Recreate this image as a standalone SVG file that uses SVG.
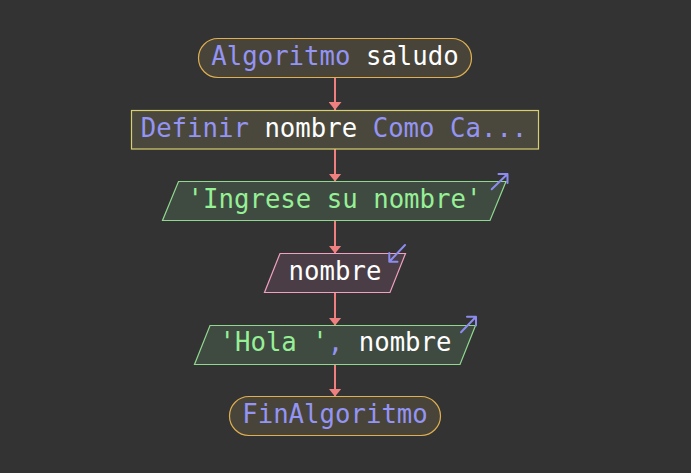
<svg xmlns="http://www.w3.org/2000/svg" width="691" height="473" viewBox="0 0 691 473">
  <defs>
    <marker id="ah" markerWidth="8" markerHeight="13" refX="8" refY="6.5" orient="auto" markerUnits="userSpaceOnUse">
      <path d="M0,0 L8,6.5 L0,13 Z" fill="#f08080"/>
    </marker>
  </defs>
  <style>
    text { font-family: "DejaVu Sans Mono", "Liberation Mono", monospace; font-size: 25.7px; text-anchor: middle; }
    .kw { fill: #9494f4; }
    .id { fill: #ffffff; }
    .str { fill: #96f096; }
    .term { fill: #48443a; stroke: #e0b050; stroke-width: 1.2; }
    .proc { fill: #4a483c; stroke: #d8d070; stroke-width: 1.2; }
    .out { fill: #3f4a40; stroke: #90d890; stroke-width: 1.2; }
    .in { fill: #4a3d45; stroke: #f0a0c0; stroke-width: 1.2; }
    .io { fill: none; stroke: #8c8cf0; stroke-width: 2; stroke-linecap: round; stroke-linejoin: round; }
    .edge { stroke: #f08080; stroke-width: 2; fill: none; }
  </style>
  <rect width="691" height="473" fill="#333333"/>

  <g id="connectors">
    <line class="edge" x1="335" y1="77.5" x2="335" y2="110" marker-end="url(#ah)"/>
    <line class="edge" x1="335" y1="149" x2="335" y2="181.5" marker-end="url(#ah)"/>
    <line class="edge" x1="335" y1="220.5" x2="335" y2="253.5" marker-end="url(#ah)"/>
    <line class="edge" x1="335" y1="292.5" x2="335" y2="325.5" marker-end="url(#ah)"/>
    <line class="edge" x1="335" y1="364.5" x2="335" y2="396.5" marker-end="url(#ah)"/>
  </g>

  <g id="start">
    <rect class="term" x="198.5" y="38.5" width="273" height="39" rx="19.5" ry="19.5"/>
    <text x="335" y="65"><tspan class="kw">Algoritmo</tspan> <tspan class="id">saludo</tspan></text>
  </g>

  <g id="define">
    <rect class="proc" x="131.5" y="110.5" width="407" height="38.5"/>
    <text x="334" y="136.5"><tspan class="kw">Definir</tspan> <tspan class="id">nombre</tspan> <tspan class="kw">Como Ca...</tspan></text>
  </g>

  <g id="write1">
    <polygon class="out" points="178.5,181.5 506,181.5 490,220.5 162.5,220.5"/>
    <text x="334.5" y="207.5" class="str">'Ingrese su nombre'</text>
    <path class="io" d="M491.7,189.3 L507.5,174 M498.5,174 L507.5,174 L507.5,183"/>
  </g>

  <g id="read">
    <polygon class="in" points="280,253.5 405.5,253.5 390,292.5 264.5,292.5"/>
    <text x="335" y="280" class="id">nombre</text>
    <path class="io" d="M405,245 L389.3,261.7 M389.3,253 L389.3,261.7 L397.5,261.7"/>
  </g>

  <g id="write2">
    <polygon class="out" points="210,325.5 475.5,325.5 460,364.5 194.5,364.5"/>
    <text x="335.5" y="351"><tspan class="str">'Hola '</tspan><tspan class="kw">,</tspan> <tspan class="id">nombre</tspan></text>
    <path class="io" d="M461,332.3 L476,316.7 M467,316.7 L476,316.7 L476,325.5"/>
  </g>

  <g id="end">
    <rect class="term" x="229.5" y="396.5" width="211" height="39" rx="19.5" ry="19.5"/>
    <text x="335" y="422.5" class="kw">FinAlgoritmo</text>
  </g>
</svg>
